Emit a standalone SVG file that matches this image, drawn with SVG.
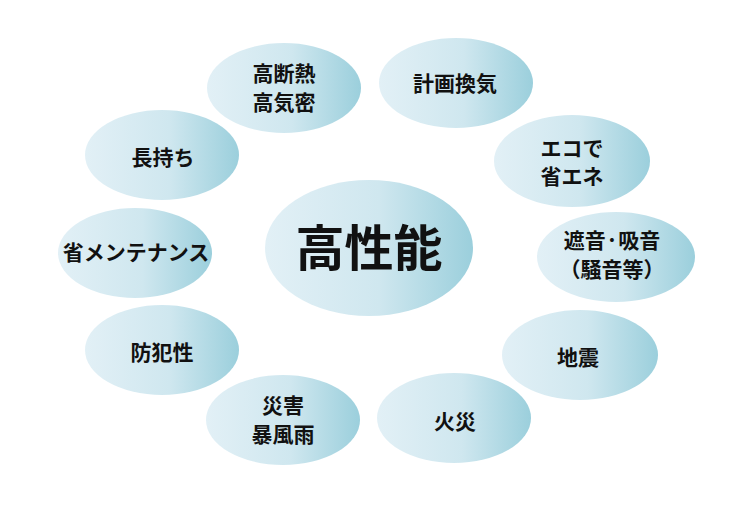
<svg xmlns="http://www.w3.org/2000/svg" width="739" height="510" viewBox="0 0 739 510">
<defs>
<linearGradient id="g" x1="0" y1="0" x2="1" y2="0">
<stop offset="0" stop-color="#e2f0f6"/>
<stop offset="0.55" stop-color="#cfe7ef"/>
<stop offset="1" stop-color="#9bcfdc"/>
</linearGradient>
</defs>
<style>
ellipse{fill:url(#g);stroke:none}
text{font-family:"Noto Sans CJK JP","Noto Sans CJK SC",sans-serif;font-weight:bold;fill:#111;text-anchor:middle;font-size:21px}
.big{font-size:49px}
</style>
<rect width="739" height="510" fill="#fff"/>
<g id="connectors"/>
<g id="n-dannetsu"><ellipse cx="284" cy="88" rx="77" ry="45"/><text x="284" y="81">高断熱</text><text x="284" y="110">高気密</text></g>
<g id="n-kanki"><ellipse cx="456" cy="83" rx="77" ry="45"/><text x="455" y="91">計画換気</text></g>
<g id="n-nagamochi"><ellipse cx="162" cy="155" rx="77" ry="45"/><text x="163" y="165">長持ち</text></g>
<g id="n-eco"><ellipse cx="572" cy="161" rx="78" ry="46"/><text x="572" y="156">エコで</text><text x="572" y="184">省エネ</text></g>
<g id="n-center"><ellipse cx="369" cy="248" rx="104" ry="68"/><text class="big" x="369" y="266">高性能</text></g>
<g id="n-maint"><ellipse cx="135" cy="253" rx="77" ry="45"/><text x="136" y="260">省メンテナンス</text></g>
<g id="n-shaon"><ellipse cx="616" cy="257" rx="79" ry="45"/><text x="612" y="248">遮音·吸音</text><text x="612" y="277">（騒音等）</text></g>
<g id="n-bohan"><ellipse cx="162" cy="350" rx="77" ry="45"/><text x="162" y="360">防犯性</text></g>
<g id="n-jishin"><ellipse cx="580" cy="355" rx="78" ry="45"/><text x="578" y="365">地震</text></g>
<g id="n-saigai"><ellipse cx="283" cy="420" rx="77" ry="45"/><text x="283" y="413">災害</text><text x="283" y="442">暴風雨</text></g>
<g id="n-kasai"><ellipse cx="454" cy="418" rx="77" ry="45"/><text x="455" y="429">火災</text></g>
</svg>
